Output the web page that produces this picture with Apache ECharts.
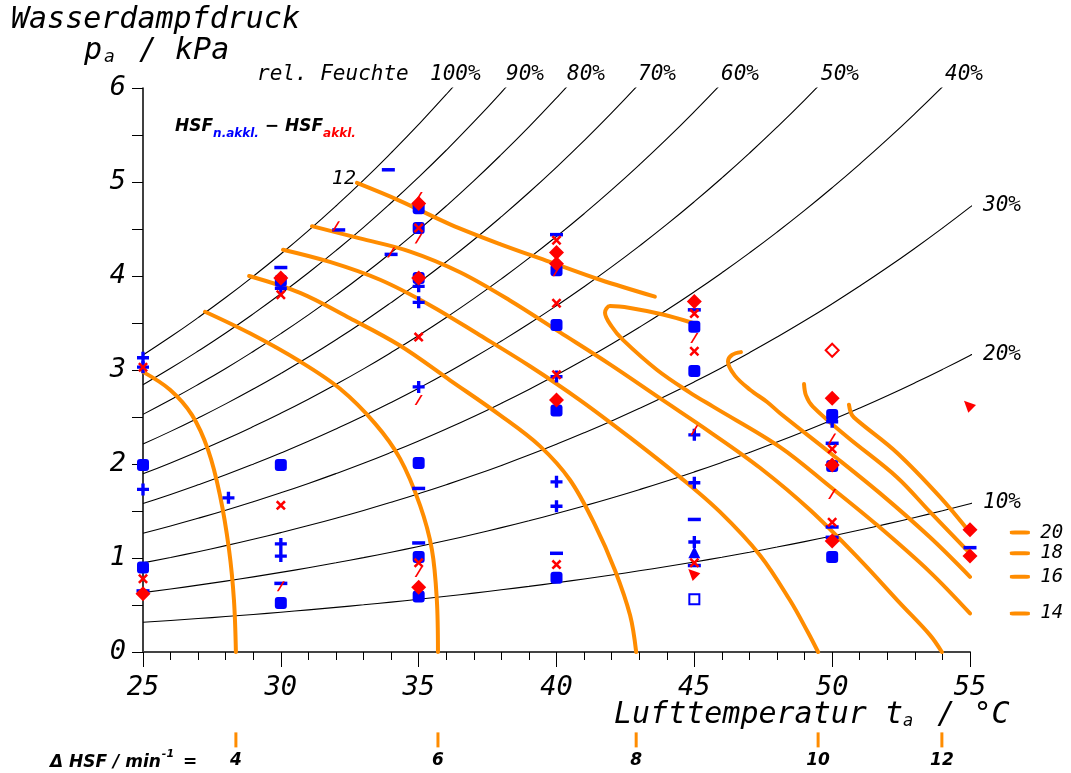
<!DOCTYPE html>
<html>
<head>
<meta charset="utf-8">
<script src="https://cdn.jsdelivr.net/npm/echarts@6/dist/echarts.min.js"></script>
<style>
  html, body { margin: 0; padding: 0; background: #fff; }
  #chart { width: 1071px; height: 773px; }
</style>
</head>
<body>
<div id="chart"></div>
<script>
// Saturation vapour pressure of water (kPa), one value per °C from 25 to 56 °C
const satTemps = [25,26,27,28,29,30,31,32,33,34,35,36,37,38,39,40,41,42,43,44,45,46,47,48,49,50,51,52,53,54,55,56];
const satPressure = [3.160,3.353,3.557,3.771,3.997,4.234,4.483,4.745,5.020,5.310,5.613,5.931,6.265,6.616,6.983,7.368,
                     7.771,8.193,8.635,9.097,9.581,10.087,10.615,11.167,11.744,12.347,12.976,13.632,14.317,15.031,15.775,16.551];
// relative humidity isolines (%)
const rhLevels = [100, 90, 80, 70, 60, 50, 40, 30, 20, 10];

// ΔHSF isolines [air temperature °C, vapour pressure kPa]
const hsf4  = [[25.00,2.98],[25.98,2.79],[26.78,2.52],[27.36,2.15],[27.79,1.67],[28.12,1.09],[28.30,0.55],[28.37,0.00]];
const hsf6  = [[27.25,3.62],[28.88,3.39],[30.70,3.09],[32.15,2.80],[33.42,2.43],[34.32,2.06],[35.05,1.56],[35.48,1.09],[35.66,0.55],[35.70,0.00]];
const hsf8  = [[28.85,4.00],[30.70,3.82],[32.51,3.55],[34.32,3.26],[36.14,2.89],[37.95,2.52],[39.40,2.19],[40.49,1.83],[41.40,1.35],[42.12,0.87],[42.67,0.39],[42.89,0.00]];
const hsf10 = [[30.08,4.28],[31.78,4.15],[33.60,3.96],[35.41,3.69],[37.22,3.37],[39.04,3.04],[40.85,2.68],[42.67,2.28],[44.48,1.86],[45.93,1.49],[47.38,1.03],[48.47,0.55],[49.12,0.21],[49.49,0.00]];
const hsf12 = [[31.13,4.53],[32.87,4.40],[34.69,4.26],[36.50,4.04],[38.31,3.74],[40.13,3.40],[41.94,3.06],[43.75,2.70],[45.57,2.34],[47.38,1.96],[49.20,1.51],[51.01,0.98],[52.46,0.52],[53.55,0.18],[53.98,0.00]];
const hsf12top = [[32.76,4.99],[34.32,4.80],[36.14,4.55],[37.95,4.34],[39.76,4.15],[41.58,3.96],[43.57,3.78]];
const hsf14 = [[44.95,3.50],[43.86,3.59],[42.67,3.66],[41.94,3.68],[41.76,3.61],[42.01,3.46],[42.41,3.32],[43.65,3.00],[44.84,2.76],[45.68,2.61],[48.11,2.18],[49.92,1.76],[51.63,1.35],[53.55,0.85],[55.00,0.41]];
const hsf16 = [[46.69,3.19],[46.37,3.16],[46.22,3.09],[46.47,2.94],[47.02,2.79],[47.64,2.66],[48.11,2.54],[49.92,2.12],[51.73,1.69],[53.55,1.22],[55.00,0.80]];
const hsf18 = [[48.98,2.85],[49.05,2.73],[49.30,2.61],[50.54,2.29],[52.35,1.86],[53.55,1.49],[55.00,1.05]];
const hsf20 = [[50.61,2.63],[50.72,2.52],[51.01,2.44],[52.35,2.12],[53.91,1.65],[55.00,1.27]];

// measured points: [°C, kPa, marker]
const blueMarks = [
  [25,3.13,'plus'],[25,3.03,'plus'],[25,1.99,'square'],[25,1.73,'plus'],[25,0.90,'square'],[25,0.65,'minus'],
  [28.1,1.64,'plus'],
  [30,4.09,'minus'],[30,3.95,'square'],[30,3.87,'plus'],[30,1.99,'square'],[30,1.15,'plus'],[30,1.02,'plus'],[30,0.73,'minus'],[30,0.52,'square'],
  [32.1,4.49,'minus'],[33.9,5.13,'minus'],[34,4.23,'minus'],
  [35,4.72,'square'],[35,4.51,'square'],[35,3.98,'square'],[35,3.89,'plus'],[35,3.72,'plus'],[35,2.82,'plus'],[35,2.01,'square'],
  [35,1.74,'minus'],[35,1.16,'minus'],[35,1.01,'square'],[35,0.59,'square'],
  [40,4.44,'minus'],[40,4.06,'square'],[40,3.48,'square'],[40,2.93,'plus'],[40,2.57,'square'],[40,1.81,'plus'],[40,1.55,'plus'],[40,1.05,'minus'],[40,0.79,'square'],
  [45,3.64,'minus'],[45,3.46,'square'],[45,2.99,'square'],[45,2.31,'plus'],[45,1.80,'plus'],[45,1.41,'minus'],[45,1.17,'plus'],[45,1.06,'triangle'],[45,0.92,'minus'],[45,0.56,'hollowSquare'],
  [50,2.52,'square'],[50,2.45,'plus'],[50,2.22,'minus'],[50,1.98,'square'],[50,1.33,'minus'],[50,1.22,'minus'],[50,1.01,'square'],
  [55,1.11,'minus']
];
const redMarks = [
  [25,3.03,'cross'],[25,0.78,'cross'],[25,0.62,'diamond'],
  [30,3.98,'diamond'],[30,3.80,'cross'],[30,1.56,'cross'],[30,0.70,'slash'],
  [32,4.53,'slash'],[34,4.25,'slash'],
  [35,4.84,'slash'],[35,4.77,'diamond'],[35,4.51,'cross'],[35,4.40,'slash'],[35,3.98,'diamond'],[35,3.35,'cross'],[35,2.68,'slash'],
  [35,0.95,'cross'],[35,0.85,'slash'],[35,0.69,'diamond'],
  [40,4.38,'cross'],[40,4.25,'diamond'],[40,4.13,'diamond'],[40,4.05,'slash'],[40,3.71,'cross'],[40,2.95,'cross'],[40,2.68,'diamond'],[40,0.93,'cross'],
  [45,3.73,'diamond'],[45,3.60,'cross'],[45,3.34,'slash'],[45,3.20,'cross'],[45,2.36,'slash'],[45,0.95,'cross'],[45,0.82,'wedge'],
  [50,3.21,'hollowDiamond'],[50,2.70,'diamond'],[50,2.27,'slash'],[50,2.16,'cross'],[50,1.99,'diamond'],[50,1.68,'slash'],[50,1.38,'cross'],[50,1.18,'diamond'],
  [55,2.61,'wedge'],[55,1.30,'diamond'],[55,1.02,'diamond']
];

const xTicks = [25, 30, 35, 40, 45, 50, 55];
const yTicks = [0, 1, 2, 3, 4, 5, 6];

const MONO = '"DejaVu Sans Mono", monospace';
const SANS = '"DejaVu Sans", sans-serif';
const ORANGE = '#ff8c00';
const BLUE = '#0000ff';
const RED = '#ff0000';

const MARKERS = {
  plus:    { symbol: 'path://M3.6,0H6.4V3.6H10V6.4H6.4V10H3.6V6.4H0V3.6H3.6Z', size: 12 },
  minus:   { symbol: 'rect', size: [13, 3.5] },
  cross:   { symbol: 'path://M0,1.8L1.8,0L5,3.2L8.2,0L10,1.8L6.8,5L10,8.2L8.2,10L5,6.8L1.8,10L0,8.2L3.2,5Z', size: 10 },
  slash:   { symbol: 'path://M7.6,0H10L2.4,10H0Z', size: [8, 10] },
  square:  { symbol: 'roundRect', size: 12 },
  diamond: { symbol: 'diamond', size: 15 },
  triangle:{ symbol: 'triangle', size: 12 },
  wedge:   { symbol: 'path://M0,0L10,3.6L3.6,10Z', size: 12 },
  hollowSquare:  { symbol: 'emptyRect', size: 10 },
  hollowDiamond: { symbol: 'emptyDiamond', size: 13 }
};

function markData(list) {
  return list.map(m => ({
    value: [m[0], m[1]],
    symbol: MARKERS[m[2]].symbol,
    symbolSize: MARKERS[m[2]].size
  }));
}

// relative humidity lines
const rhSeries = rhLevels.map(rh => ({
  type: 'line',
  data: satTemps.map((t, i) => [t, satPressure[i] * rh / 100]),
  smooth: true,
  symbol: 'none',
  silent: true,
  clip: true,
  z: 2,
  lineStyle: { color: '#000', width: 1.1 }
}));

const bottomCurves = [[4, hsf4], [6, hsf6], [8, hsf8], [10, hsf10], [12, hsf12]];
const rightCurves  = [[20, hsf20], [18, hsf18], [16, hsf16], [14, hsf14]];
const allCurves = [hsf4, hsf6, hsf8, hsf10, hsf12, hsf12top, hsf14, hsf16, hsf18, hsf20];

const hsfSeries = allCurves.map(c => ({
  type: 'line',
  data: c,
  smooth: 0.35,
  symbol: 'none',
  silent: true,
  clip: true,
  z: 3,
  lineStyle: { color: ORANGE, width: 4, cap: 'round', join: 'round' }
}));

// key: short orange marks below the x axis and to the right of the plot, with their ΔHSF values
const keyMarkSeries = {
  type: 'scatter',
  silent: true,
  clip: false,
  z: 5,
  itemStyle: { color: ORANGE, opacity: 1 },
  data: [
    ...bottomCurves.map(([lvl, c]) => ({ value: [c[c.length - 1][0], -0.935], symbol: 'rect', symbolSize: [3, 15] })),
    ...rightCurves.map(([lvl, c]) => ({ value: [56.81, c[c.length - 1][1]], symbol: 'roundRect', symbolSize: [20, 4] }))
  ]
};

const keyLabelSeries = {
  type: 'scatter',
  symbolSize: 0,
  silent: true,
  clip: false,
  z: 5,
  itemStyle: { opacity: 1 },
  data: [
    ...bottomCurves.map(([lvl, c]) => ({
      value: [c[c.length - 1][0], -1.155],
      label: { show: true, position: 'inside', formatter: String(lvl),
               fontFamily: SANS, fontStyle: 'italic', fontWeight: 'bold', fontSize: 17, color: '#000' }
    })),
    ...rightCurves.map(([lvl, c]) => ({
      value: [57.55, c[c.length - 1][1]],
      label: { show: true, position: 'right', distance: 0, formatter: String(lvl),
               fontFamily: MONO, fontStyle: 'italic', fontSize: 19, color: '#000' }
    })),
    {
      value: hsf12top[0],
      label: { show: true, position: 'left', distance: 1, offset: [0, -4], formatter: '12',
               fontFamily: MONO, fontStyle: 'italic', fontSize: 20, color: '#000' }
    }
  ]
};

const rhLabels = [
  ['rel. Feuchte', 257, 75], ['100%', 430, 75], ['90%', 506, 75], ['80%', 567, 75], ['70%', 638, 75],
  ['60%', 721, 75], ['50%', 821, 75], ['40%', 945, 75], ['30%', 983, 206], ['20%', 983, 355], ['10%', 983, 503]
];

const option = {
  backgroundColor: '#fff',
  animation: false,
  grid: { left: 143, top: 88, width: 827, height: 564, containLabel: false },
  xAxis: {
    type: 'value', min: 25, max: 55, interval: 5,
    axisLine: { show: true, lineStyle: { color: '#444', width: 2 } },
    axisTick: { show: true, length: 15, lineStyle: { color: '#000', width: 1 } },
    minorTick: { show: true, splitNumber: 5, length: 8, lineStyle: { color: '#000', width: 1 } },
    splitLine: { show: false },
    axisLabel: {
      margin: 22, fontFamily: MONO, fontStyle: 'italic', fontSize: 27, color: '#000',
      formatter: v => xTicks.includes(v) ? String(v) : ''
    }
  },
  yAxis: {
    type: 'value', min: 0, max: 6, interval: 0.5,
    axisLine: { show: true, lineStyle: { color: '#000', width: 1.5 } },
    axisTick: { show: true, length: 11, lineStyle: { color: '#000', width: 1 } },
    splitLine: { show: false },
    axisLabel: {
      margin: 17, fontFamily: MONO, fontStyle: 'italic', fontSize: 27, color: '#000',
      formatter: v => yTicks.includes(v) ? String(v) : ''
    }
  },
  series: [
    ...rhSeries,
    ...hsfSeries,
    {
      type: 'scatter', z: 4, silent: true,
      itemStyle: { color: BLUE, opacity: 1 },
      data: markData(blueMarks)
    },
    {
      type: 'scatter', z: 4, silent: true,
      itemStyle: { color: RED, opacity: 1 },
      data: markData(redMarks)
    },
    keyMarkSeries,
    keyLabelSeries
  ],
  graphic: [
    { type: 'text', left: 11, top: 5, style: { text: 'Wasserdampfdruck', font: 'italic 30px ' + MONO, fill: '#000' } },
    { type: 'text', left: 84, top: 36, style: {
        text: '{m|p}{s|a}{m|/ kPa}',
        rich: {
          m: { fontFamily: MONO, fontStyle: 'italic', fontSize: 30, lineHeight: 34, verticalAlign: 'bottom', fill: '#000' },
          s: { fontFamily: MONO, fontStyle: 'italic', fontSize: 18, lineHeight: 18, verticalAlign: 'bottom', padding: [0, 24, 0, 2], fill: '#000' }
        }
      } },
    { type: 'text', left: 614, top: 700, style: {
        text: '{m|Lufttemperatur t}{s|a}{m| / °C}',
        rich: {
          m: { fontFamily: MONO, fontStyle: 'italic', fontSize: 30, lineHeight: 34, verticalAlign: 'bottom', fill: '#000' },
          s: { fontFamily: MONO, fontStyle: 'italic', fontSize: 17, lineHeight: 16, verticalAlign: 'bottom', padding: [0, 6, 0, 0], fill: '#000' }
        }
      } },
    { type: 'text', left: 175, top: 118, style: {
        text: '{h|HSF}{b|n.akkl.}{h| − HSF}{r|akkl.}',
        rich: {
          h: { fontFamily: SANS, fontStyle: 'italic', fontWeight: 'bold', fontSize: 17, lineHeight: 22, verticalAlign: 'top', fill: '#000' },
          b: { fontFamily: SANS, fontStyle: 'italic', fontWeight: 'bold', fontSize: 12, lineHeight: 22, verticalAlign: 'bottom', fill: BLUE },
          r: { fontFamily: SANS, fontStyle: 'italic', fontWeight: 'bold', fontSize: 12, lineHeight: 22, verticalAlign: 'bottom', fill: RED }
        }
      } },
    { type: 'text', left: 50, top: 749, style: {
        text: '{b|Δ HSF / min}{u|-1}{b| =}',
        rich: {
          b: { fontFamily: SANS, fontStyle: 'italic', fontWeight: 'bold', fontSize: 17, lineHeight: 22, verticalAlign: 'bottom', fill: '#000' },
          u: { fontFamily: SANS, fontStyle: 'italic', fontWeight: 'bold', fontSize: 11, lineHeight: 22, verticalAlign: 'top', padding: [0, 3, 0, 1], fill: '#000' }
        }
      } },
    ...rhLabels.map(([txt, x, y]) => ({
      type: 'text', x: x, y: y,
      style: { text: txt, font: 'italic 21px ' + MONO, fill: '#000', verticalAlign: 'middle', align: 'left' }
    }))
  ]
};

const chart = echarts.init(document.getElementById('chart'), null, { renderer: 'canvas' });
chart.setOption(option);
</script>
</body>
</html>
